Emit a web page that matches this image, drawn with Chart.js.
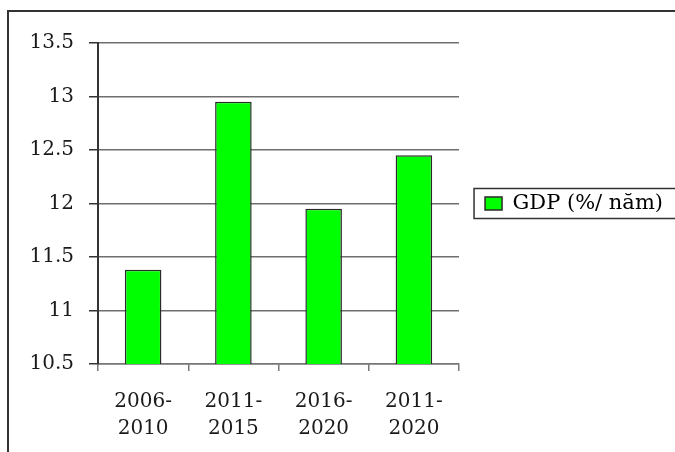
<!DOCTYPE html>
<html>
<head>
<meta charset="utf-8">
<script src="https://cdn.jsdelivr.net/npm/chart.js@4"></script>
<style>
  html, body { margin: 0; padding: 0; background: #ffffff; overflow: hidden; }
  #wrap { position: relative; width: 675px; height: 452px; }
  #frame { position: absolute; left: 7px; top: 10px; width: 700px; height: 480px;
           border: 2px solid #333333; box-sizing: border-box; pointer-events: none; }
  canvas { position: absolute; left: 0; top: 0; }
</style>
</head>
<body>
<div id="wrap">
  <canvas id="chart" width="675" height="452"></canvas>
  <div id="frame"></div>
</div>
<script>
// Periods on the category axis (two-line labels)
const periods = [
  ['2006-', '2010'],
  ['2011-', '2015'],
  ['2016-', '2020'],
  ['2011-', '2020']
];
// GDP growth per period, % per year
const gdpGrowth = [11.38, 12.95, 11.95, 12.45];
const seriesName = 'GDP (%/ năm)';
// Value axis ticks
const yTicks = [10.5, 11, 11.5, 12, 12.5, 13, 13.5];

const serif = "'DejaVu Serif', 'Liberation Serif', serif";

// Box drawn around the legend entry
const legendFrame = {
  id: 'legendFrame',
  afterDraw(chart) {
    const lg = chart.legend;
    if (!lg || !lg.legendHitBoxes || !lg.legendHitBoxes.length) return;
    const hb = lg.legendHitBoxes[0];
    const ctx = chart.ctx;
    ctx.save();
    ctx.strokeStyle = '#333333';
    ctx.lineWidth = 1.5;
    const left = hb.left - 11;
    const top = hb.top + hb.height / 2 - 15;
    ctx.strokeRect(left, top, chart.width - left + 5, 30);
    ctx.restore();
  }
};

new Chart(document.getElementById('chart'), {
  type: 'bar',
  data: {
    labels: periods,
    datasets: [{
      label: seriesName,
      data: gdpGrowth,
      backgroundColor: '#00ff00',
      borderColor: '#2a2a2a',
      borderWidth: 1.5,
      borderSkipped: false,
      barPercentage: 0.405,
      categoryPercentage: 1
    }]
  },
  options: {
    responsive: false,
    animation: false,
    layout: { padding: { top: 43, left: 0, right: 2, bottom: 0 } },
    plugins: {
      tooltip: { enabled: false },
      legend: {
        position: 'right',
        fullSize: false,
        maxWidth: 214,
        labels: {
          font: { family: serif, size: 21 },
          color: '#1a1a1a',
          boxWidth: 17,
          boxHeight: 13,
          padding: 26,
          generateLabels(chart) {
            const ds = chart.data.datasets[0];
            return [{
              text: ds.label,
              fillStyle: ds.backgroundColor,
              strokeStyle: '#2a2a2a',
              lineWidth: 1.5,
              datasetIndex: 0
            }];
          }
        }
      }
    },
    scales: {
      x: {
        afterFit(axis) { axis.height = 88; },
        grid: {
          offset: true,
          drawOnChartArea: true,
          color: (c) => (c.index === periods.length ? '#a8a8a8' : 'rgba(0,0,0,0)'),
          tickColor: '#777777',
          tickLength: 7,
          lineWidth: 1.5
        },
        border: { color: '#777777', width: 1.5 },
        ticks: {
          font: { family: serif, size: 20, lineHeight: 1.35 },
          color: '#1a1a1a',
          padding: 17,
          maxRotation: 0,
          autoSkip: false
        }
      },
      y: {
        min: yTicks[0],
        max: yTicks[yTicks.length - 1],
        afterFit(axis) { axis.width = 98; },
        afterBuildTicks(axis) { axis.ticks = yTicks.map(v => ({ value: v })); },
        grid: {
          color: '#6e6e6e',
          lineWidth: 1.5,
          tickColor: '#333333',
          tickLength: 9
        },
        border: { color: '#333333', width: 2 },
        ticks: {
          font: { family: serif, size: 20 },
          color: '#1a1a1a',
          padding: 15,
          callback: (v) => String(v)
        }
      }
    }
  },
  plugins: [legendFrame]
});
</script>
</body>
</html>
